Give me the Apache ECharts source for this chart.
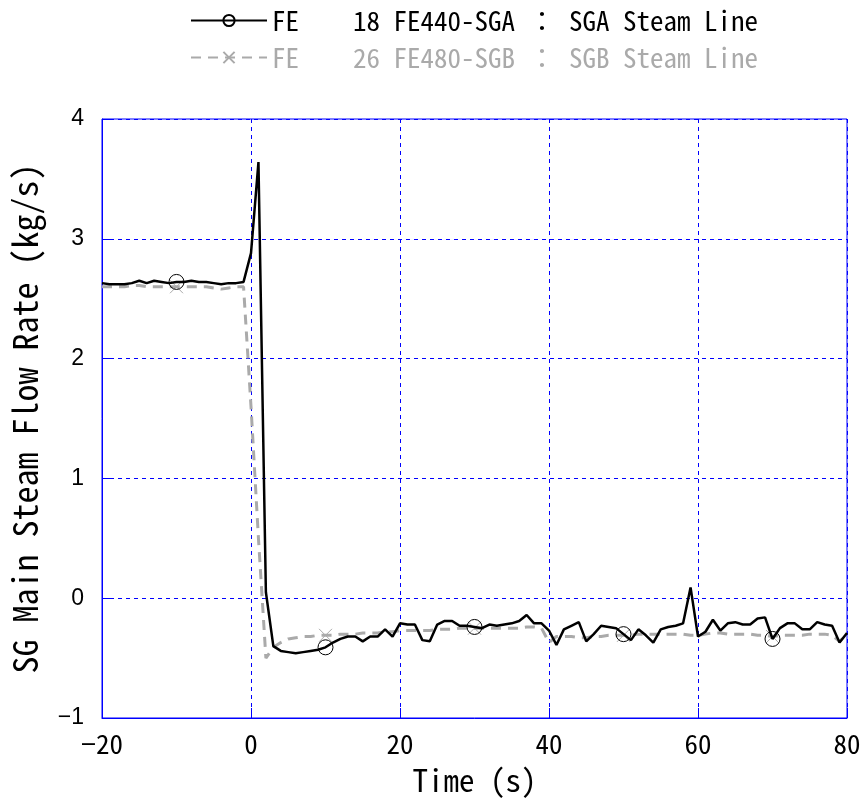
<!DOCTYPE html>
<html>
<head>
<meta charset="utf-8">
<script src="https://cdn.jsdelivr.net/npm/echarts@6/dist/echarts.min.js"></script>
<style>html,body{margin:0;padding:0;background:#fff}#c{width:865px;height:805px}</style>
</head>
<body>
<div id="c"></div>
<script>
var timeS = [-20,-19,-18,-17,-16,-15,-14,-13,-12,-11,-10,-9,-8,-7,-6,-5,-4,-3,-2,-1,
  0,1,2,3,4,5,6,7,8,9,10,11,12,13,14,15,16,17,18,19,
  20,21,22,23,24,25,26,27,28,29,30,31,32,33,34,35,36,37,38,39,
  40,41,42,43,44,45,46,47,48,49,50,51,52,53,54,55,56,57,58,59,
  60,61,62,63,64,65,66,67,68,69,70,71,72,73,74,75,76,77,78,79,80];
var sgaFlow = [2.63,2.62,2.62,2.62,2.63,2.65,2.63,2.65,2.64,2.63,2.64,2.64,2.65,2.64,2.64,2.63,2.62,2.63,2.63,2.64,
  2.88,3.64,0.05,-0.40,-0.44,-0.45,-0.46,-0.45,-0.44,-0.43,-0.41,-0.37,-0.34,-0.32,-0.32,-0.36,-0.32,-0.32,-0.26,-0.32,
  -0.21,-0.22,-0.22,-0.35,-0.36,-0.22,-0.19,-0.19,-0.23,-0.23,-0.24,-0.25,-0.22,-0.23,-0.22,-0.21,-0.19,-0.14,-0.21,-0.21,
  -0.27,-0.39,-0.26,-0.23,-0.20,-0.36,-0.30,-0.23,-0.24,-0.25,-0.30,-0.35,-0.26,-0.31,-0.37,-0.26,-0.24,-0.23,-0.21,0.09,
  -0.32,-0.28,-0.18,-0.27,-0.21,-0.20,-0.22,-0.22,-0.17,-0.16,-0.34,-0.25,-0.21,-0.21,-0.26,-0.26,-0.20,-0.22,-0.23,-0.37,-0.29];
var sgbFlow = [2.60,2.60,2.60,2.60,2.61,2.61,2.60,2.60,2.60,2.60,2.60,2.60,2.60,2.60,2.60,2.59,2.58,2.59,2.60,2.60,
  1.60,0.50,-0.50,-0.41,-0.37,-0.34,-0.33,-0.32,-0.32,-0.31,-0.31,-0.31,-0.30,-0.30,-0.30,-0.29,-0.29,-0.29,-0.28,-0.28,
  -0.27,-0.27,-0.27,-0.27,-0.27,-0.26,-0.26,-0.26,-0.25,-0.25,-0.25,-0.25,-0.25,-0.25,-0.25,-0.25,-0.25,-0.24,-0.24,-0.25,
  -0.37,-0.32,-0.32,-0.32,-0.33,-0.33,-0.32,-0.32,-0.31,-0.31,-0.31,-0.31,-0.30,-0.30,-0.30,-0.30,-0.30,-0.30,-0.30,-0.31,
  -0.31,-0.30,-0.29,-0.29,-0.30,-0.30,-0.30,-0.30,-0.31,-0.31,-0.32,-0.31,-0.31,-0.31,-0.31,-0.30,-0.30,-0.30,-0.31,-0.36,-0.30];
var seriesNames = ['FE    18 FE440-SGA ： SGA Steam Line', 'FE    26 FE480-SGB ： SGB Steam Line'];
var xTicks = [-20, 0, 20, 40, 60, 80];
var yTicks = [-1, 0, 1, 2, 3, 4];

var monoFont = '"Noto Sans Mono CJK JP", "Noto Sans CJK JP", "Liberation Mono", monospace';
function pairs(vals) { return timeS.map(function (t, i) { return [t, vals[i]]; }); }
function markerSize(size) {
  return function (v, p) { return (p.dataIndex % 20 === 10) ? size : 0; };
}
function fmt(v) { return v < 0 ? '\u2212' + Math.abs(v) : String(v); }

var chart = echarts.init(document.getElementById('c'), null, { renderer: 'canvas' });
chart.setOption({
  animation: false,
  backgroundColor: '#fff',
  legend: {
    orient: 'vertical',
    left: 185, top: 2,
    itemWidth: 76, itemHeight: 14, itemGap: 10,
    textStyle: { fontFamily: monoFont, fontSize: 27 },
    data: [
      { name: seriesNames[0], textStyle: { color: '#000' } },
      { name: seriesNames[1], textStyle: { color: '#aaaaaa' } }
    ]
  },
  grid: { left: 102, right: 18, top: 119, bottom: 87, show: true, borderColor: '#0000ff', borderWidth: 1 },
  xAxis: {
    type: 'value', min: -20, max: 80, interval: 20,
    name: 'Time (s)', nameLocation: 'middle', nameGap: 47,
    nameTextStyle: { fontFamily: monoFont, fontSize: 31, color: '#000' },
    axisLine: { onZero: false, lineStyle: { color: '#0000ff', width: 1 } },
    axisTick: { inside: true, length: 10, lineStyle: { color: '#0000ff' } },
    axisLabel: { formatter: fmt, fontFamily: monoFont, fontSize: 27, color: '#000', margin: 12 },
    splitLine: { show: true, lineStyle: { color: '#0000ff', width: 1, type: [4, 4] } }
  },
  yAxis: {
    type: 'value', min: -1, max: 4, interval: 1,
    name: 'SG Main Steam Flow Rate (kg/s)', nameLocation: 'middle', nameGap: 60,
    nameTextStyle: { fontFamily: monoFont, fontSize: 34, color: '#000' },
    axisLine: { onZero: false, lineStyle: { color: '#0000ff', width: 1 } },
    axisTick: { inside: true, length: 10, lineStyle: { color: '#0000ff' } },
    axisLabel: { formatter: fmt, fontFamily: '"Liberation Sans", Arial, sans-serif', fontSize: 23, color: '#000', margin: 18 },
    splitLine: { show: true, lineStyle: { color: '#0000ff', width: 1, type: [4, 4] } }
  },
  series: [
    {
      name: seriesNames[1], type: 'line', data: pairs(sgbFlow),
      symbol: 'path://M0,0L10,10M10,0L0,10', symbolSize: markerSize(13), showAllSymbol: true,
      itemStyle: { color: 'none', borderColor: '#aaaaaa', borderWidth: 1 },
      lineStyle: { color: '#aaaaaa', width: 3, type: [10, 7] },
      z: 2
    },
    {
      name: seriesNames[0], type: 'line', data: pairs(sgaFlow),
      symbol: 'circle', symbolSize: markerSize(15), showAllSymbol: true,
      itemStyle: { color: 'rgba(0,0,0,0)', borderColor: '#000', borderWidth: 1 },
      lineStyle: { color: '#000', width: 2.5 },
      z: 3
    }
  ]
});
</script>
</body>
</html>
